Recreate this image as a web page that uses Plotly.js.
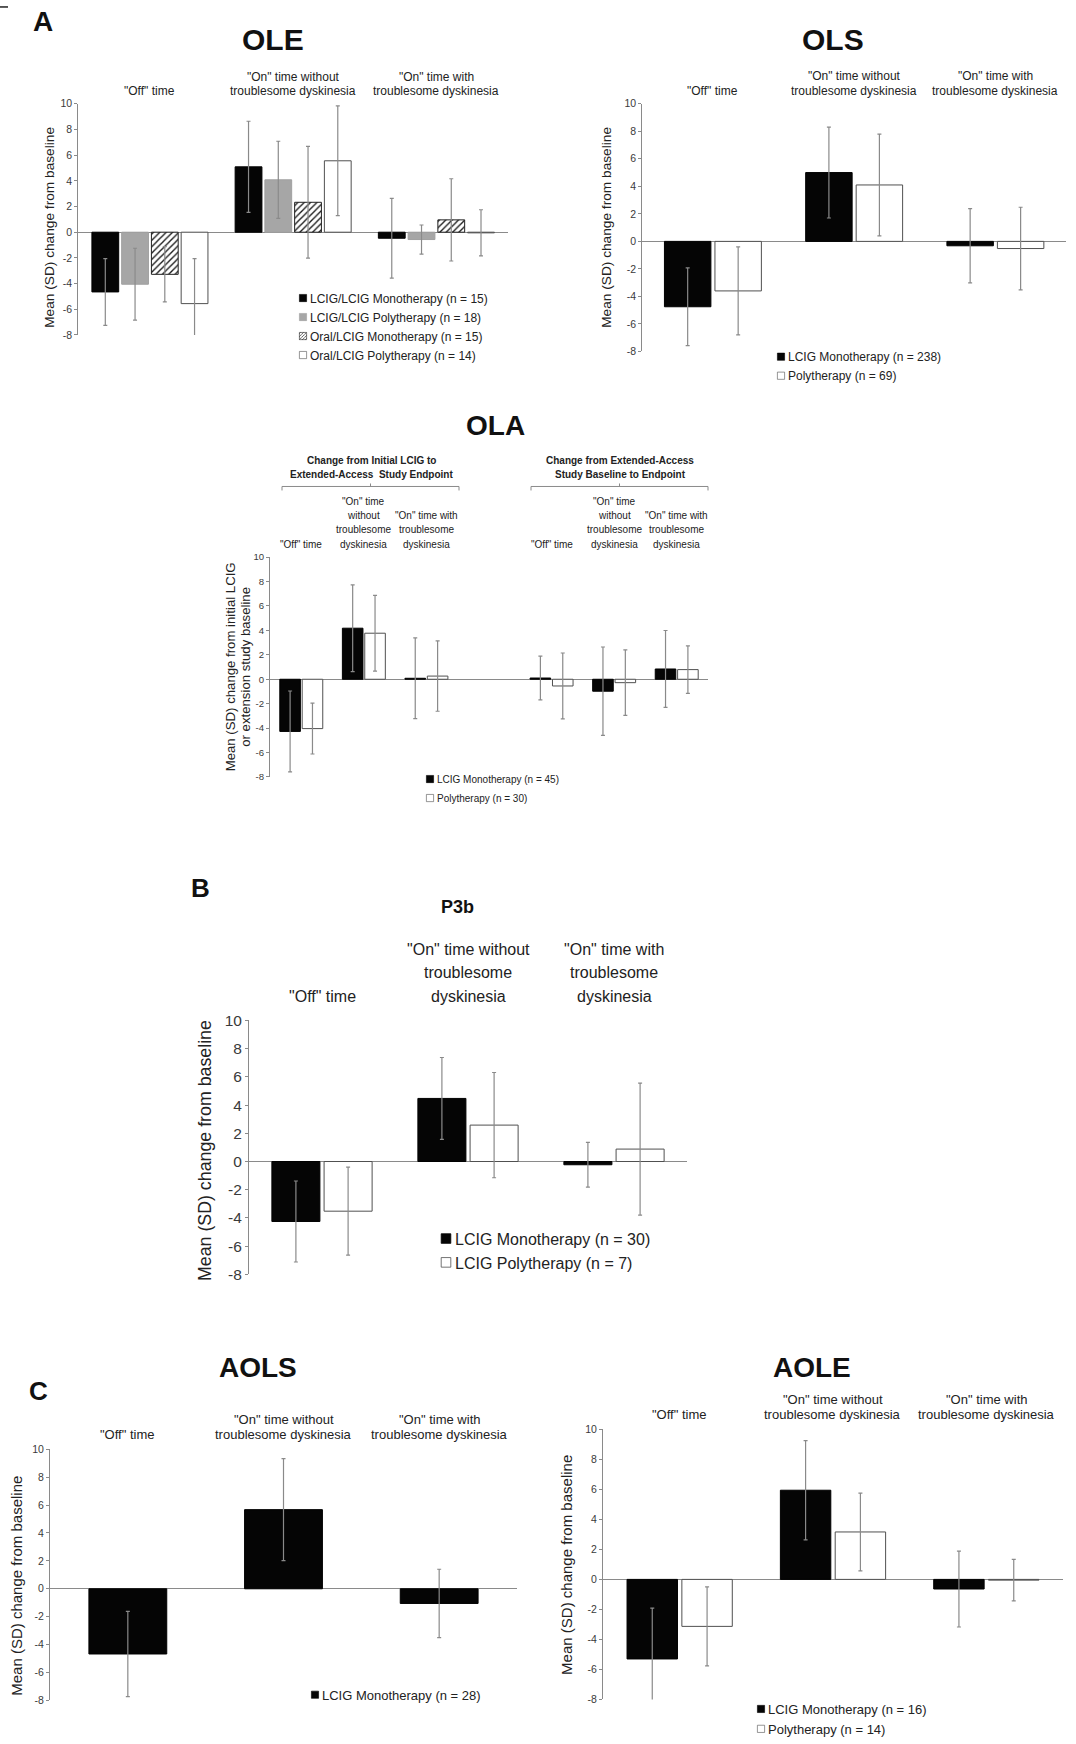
<!DOCTYPE html>
<html><head><meta charset="utf-8">
<script src="https://cdn.plot.ly/plotly-3.0.1.min.js"></script>
<style>body{margin:0;background:#fff}#chart{width:1076px;height:1744px}</style>
</head><body><div id="chart"></div>
<script>
// ---------------- DATA ----------------
const catLabels = ['"Off" time', '"On" time without<br>troublesome dyskinesia', '"On" time with<br>troublesome dyskinesia'];
const p3bCatLabels = ['"Off" time', '"On" time without<br>troublesome<br>dyskinesia', '"On" time with<br>troublesome<br>dyskinesia'];
const olaCatLabels = ['"Off" time', '"On" time<br>without<br>troublesome<br>dyskinesia', '"On" time with<br>troublesome<br>dyskinesia'];
const olaSections = ['Change from Initial LCIG to<br>Extended-Access  Study Endpoint', 'Change from Extended-Access<br>Study Baseline to Endpoint'];
const yTickVals = [-8, -6, -4, -2, 0, 2, 4, 6, 8, 10];
const yTickText = ['-8', '-6', '-4', '-2', '0', '2', '4', '6', '8', '10'];
const yTitle = 'Mean (SD) change from baseline';
const olaYTitle = 'Mean (SD) change from initial LCIG<br>or extension study baseline';

// OLE
const oleNames = ['LCIG/LCIG Monotherapy (n = 15)', 'LCIG/LCIG Polytherapy (n = 18)', 'Oral/LCIG Monotherapy (n = 15)', 'Oral/LCIG Polytherapy (n = 14)'];
const oleLcigMono = [-4.65, 5.09, -0.47];
const oleLcigMonoSD = [2.6, 3.55, 3.1];
const oleLcigPoly = [-4.05, 4.08, -0.57];
const oleLcigPolySD = [2.8, 3.0, 1.13];
const oleOralMono = [-3.28, 2.33, 0.96];
const oleOralMonoSD = [2.15, 4.35, 3.2];
const oleOralPoly = [-5.56, 5.56, -0.05];
const oleOralPolySD = [3.5, 4.27, 1.8];

// OLS
const olsNames = ['LCIG Monotherapy (n = 238)', 'Polytherapy (n = 69)'];
const olsMono = [-4.75, 5.0, -0.32];
const olsMonoSD = [2.82, 3.3, 2.7];
const olsPoly = [-3.6, 4.1, -0.52];
const olsPolySD = [3.2, 3.7, 3.0];

// OLA
const olaNames = ['LCIG Monotherapy (n = 45)', 'Polytherapy (n = 30)'];
const olaMono = [-4.27, 4.18, 0.08, 0.1, -0.98, 0.84];
const olaMonoSD = [3.31, 3.55, 3.31, 1.79, 3.62, 3.15];
const olaPoly = [-4.04, 3.77, 0.26, -0.55, -0.28, 0.79];
const olaPolySD = [2.08, 3.1, 2.88, 2.7, 2.68, 1.94];

// P3b
const p3bNames = ['LCIG Monotherapy (n = 30)', 'LCIG Polytherapy (n = 7)'];
const p3bMono = [-4.25, 4.47, -0.23];
const p3bMonoSD = [2.87, 2.9, 1.58];
const p3bPoly = [-3.52, 2.58, 0.88];
const p3bPolySD = [3.12, 3.73, 4.68];

// AOLS
const aolsNames = ['LCIG Monotherapy (n = 28)'];
const aolsMono = [-4.67, 5.67, -1.05];
const aolsMonoSD = [3.05, 3.65, 2.45];

// AOLE
const aoleNames = ['LCIG Monotherapy (n = 16)', 'Polytherapy (n = 14)'];
const aoleMono = [-5.3, 5.94, -0.64];
const aoleMonoSD = [3.38, 3.31, 2.53];
const aolePoly = [-3.13, 3.16, -0.05];
const aolePolySD = [2.63, 2.59, 1.38];

// ---------------- LAYOUT HELPERS ----------------
const W = 1076, H = 1744;
const px = v => v / W;
const py = v => 1 - v / H;
const FONT = '"Liberation Sans", Arial, sans-serif';
const GREY = '#8a8a8a';

const olaX = olaSections.flatMap((s, k) => olaCatLabels.map((c, i) => k * (olaCatLabels.length + 1) + i));

const styles = {
  black: {color: '#050505', line: {color: '#000', width: 1}},
  grey: {color: '#a6a6a6', line: {color: '#a0a0a0', width: 1}},
  hatch: {color: '#ffffff', line: {color: '#222', width: 1}, pattern: {shape: '/', fgcolor: '#1a1a1a', bgcolor: '#ffffff', size: 4.5, solidity: 0.3}},
  white: {color: '#ffffff', line: {color: '#505050', width: 1}}
};

function bar(x, y, sd, name, style, ax, legend, extra) {
  return Object.assign({
    type: 'bar', x: x, y: y, name: name,
    xaxis: 'x' + ax, yaxis: 'y' + ax, legend: legend,
    marker: JSON.parse(JSON.stringify(style)),
    error_y: {type: 'data', array: sd, visible: true, color: GREY, thickness: 1.2, width: 2},
    hoverinfo: 'skip'
  }, extra || {});
}

const traces = [];
// OLE (4 bars, custom width/offset)
const oleW = 0.187, oleStep = 0.2077, oleOff0 = -0.405;
[[oleLcigMono, oleLcigMonoSD, styles.black], [oleLcigPoly, oleLcigPolySD, styles.grey],
 [oleOralMono, oleOralMonoSD, styles.hatch], [oleOralPoly, oleOralPolySD, styles.white]].forEach((d, i) => {
  traces.push(bar(catLabels, d[0], d[1], oleNames[i], d[2], '', 'legend', {width: oleW, offset: oleOff0 + i * oleStep}));
});
// OLS
traces.push(bar(catLabels, olsMono, olsMonoSD, olsNames[0], styles.black, '2', 'legend2'));
traces.push(bar(catLabels, olsPoly, olsPolySD, olsNames[1], styles.white, '2', 'legend2'));
// OLA
traces.push(bar(olaX, olaMono, olaMonoSD, olaNames[0], styles.black, '3', 'legend3'));
traces.push(bar(olaX, olaPoly, olaPolySD, olaNames[1], styles.white, '3', 'legend3'));
// P3b
traces.push(bar(p3bCatLabels, p3bMono, p3bMonoSD, p3bNames[0], styles.black, '4', 'legend4'));
traces.push(bar(p3bCatLabels, p3bPoly, p3bPolySD, p3bNames[1], styles.white, '4', 'legend4'));
// AOLS
traces.push(bar(catLabels, aolsMono, aolsMonoSD, aolsNames[0], styles.black, '5', 'legend5', {width: 0.5, offset: -0.25}));
// AOLE
traces.push(bar(catLabels, aoleMono, aoleMonoSD, aoleNames[0], styles.black, '6', 'legend6'));
traces.push(bar(catLabels, aolePoly, aolePolySD, aoleNames[1], styles.white, '6', 'legend6'));

function xaxis(x0, x1, range, type) {
  return {domain: [px(x0), px(x1)], range: range, type: type || 'category', showticklabels: false,
    ticks: '', showline: false, showgrid: false, zeroline: false, fixedrange: true};
}
function yaxis(y0, y1, anchor, tickSize) {
  return {domain: [py(y1), py(y0)], range: [-8, 10], anchor: anchor,
    tickvals: yTickVals, ticktext: yTickText, tickfont: {size: tickSize, color: '#3a3a3a', family: FONT},
    showline: true, linecolor: GREY, linewidth: 1, ticks: 'outside', ticklen: 3, tickcolor: GREY,
    showgrid: false, zeroline: true, zerolinecolor: GREY, zerolinewidth: 1.2, fixedrange: true};
}
function legend(x, y, size) {
  return {x: px(x), y: py(y), xanchor: 'left', yanchor: 'top', bgcolor: 'rgba(0,0,0,0)',
    font: {size: size, color: '#222', family: FONT}, traceorder: 'normal', tracegroupgap: 0, itemwidth: 30};
}

const annotations = [];
function txt(x, y, text, size, opts) {
  annotations.push(Object.assign({xref: 'paper', yref: 'paper', x: px(x), y: py(y), text: text, showarrow: false,
    font: {size: size, color: '#111', family: FONT}, xanchor: 'center', yanchor: 'middle'}, opts || {}));
}
// category labels: one annotation per line, placed on the category's x position
function catAnn(labels, xs, axis, lastY, spacing, size) {
  labels.forEach((l, i) => {
    const lines = l.split('<br>');
    lines.forEach((ln, j) => annotations.push({xref: axis, yref: 'paper', x: xs[i],
      y: py(lastY - (lines.length - 1 - j) * spacing + 1), text: ln,
      showarrow: false, xanchor: 'center', yanchor: 'middle', font: {size: size, color: '#222', family: FONT}}));
  });
}
function yTitleAnn(x, y, text, size, spacing) {
  const lines = text.split('<br>');
  lines.forEach((ln, j) => txt(x - (lines.length - 1) * spacing / 2 + j * spacing, y, ln, size,
    {textangle: -90, font: {size: size, color: '#222', family: FONT}}));
}
// titles and panel letters
txt(43, 22, '<b>A</b>', 28);
txt(273, 40, '<b>OLE</b>', 30);
txt(833, 40, '<b>OLS</b>', 30);
txt(495, 428, '<b>OLA</b>', 28);
txt(200, 893, '<b>B</b>', 26);
txt(457, 912, '<b>P3b</b>', 18);
txt(38, 1398, '<b>C</b>', 26);
txt(258, 1375, '<b>AOLS</b>', 28);
txt(812, 1375, '<b>AOLE</b>', 28);
// category labels
catAnn(catLabels, catLabels, 'x', 90, 14, 12);
catAnn(catLabels, catLabels, 'x2', 90, 15, 12);
catAnn(olaCatLabels.concat(olaCatLabels), olaX, 'x3', 546, 14.3, 10);
catAnn(p3bCatLabels, p3bCatLabels, 'x4', 1001, 24, 16);
catAnn(catLabels, catLabels, 'x5', 1441, 15.3, 13);
catAnn(catLabels, catLabels, 'x6', 1421, 15.3, 13);
// OLA section headers (centered over brackets)
[[371, olaSections[0]], [620, olaSections[1]]].forEach(s => {
  s[1].split('<br>').forEach((ln, j) => txt(s[0], 462.5 + j * 14.5, '<b>' + ln + '</b>', 10,
    {font: {size: 10, color: '#222', family: FONT}}));
});
// y-axis titles
yTitleAnn(50, 229, yTitle, 13.7, 0);
yTitleAnn(607, 229, yTitle, 13.7, 0);
yTitleAnn(238, 670, olaYTitle, 13.2, 14.5);
yTitleAnn(205, 1157, yTitle, 17.8, 0);
yTitleAnn(17, 1594, yTitle, 15, 0);
yTitleAnn(567, 1573, yTitle, 15, 0);

function bracket(x0, x1, y) {
  const xm = (x0 + x1) / 2;
  return {type: 'path', xref: 'paper', yref: 'paper', line: {color: GREY, width: 1},
    path: `M${px(x0)},${py(y + 4)} L${px(x0)},${py(y)} L${px(x1)},${py(y)} L${px(x1)},${py(y + 4)} M${px(xm)},${py(y)} L${px(xm)},${py(y - 3)}`};
}
const shapes = [bracket(282, 459, 489), bracket(531, 708, 489),
  {type: 'line', xref: 'paper', yref: 'paper', x0: 0, x1: px(8), y0: py(7), y1: py(7), line: {color: '#222', width: 1.5}}];

const layout = {
  width: W, height: H, margin: {l: 0, r: 0, t: 0, b: 0},
  paper_bgcolor: '#fff', plot_bgcolor: 'rgba(0,0,0,0)',
  font: {family: FONT, color: '#222'},
  barmode: 'group', bargap: 0.285, bargroupgap: 0.08, showlegend: true,
  xaxis: xaxis(78.3, 508, [-0.5, 2.5]),
  yaxis: yaxis(104.3, 336.7, 'x', 10.5),
  xaxis2: xaxis(642.3, 1066, [-0.5, 2.5]),
  yaxis2: yaxis(104.3, 353.3, 'x2', 10.5),
  xaxis3: xaxis(270, 708, [-0.5, 6.5], 'linear'),
  yaxis3: yaxis(560, 781, 'x3', 9.6),
  xaxis4: xaxis(249, 687, [-0.5, 2.5]),
  yaxis4: yaxis(1025.7, 1281, 'x4', 15.5),
  xaxis5: xaxis(50, 517, [-0.5, 2.5]),
  yaxis5: yaxis(1456.7, 1709.3, 'x5', 10.5),
  xaxis6: xaxis(603, 1063, [-0.5, 2.5]),
  yaxis6: yaxis(1436.7, 1708.3, 'x6', 10.5),
  legend: legend(283, 285, 12),
  legend2: legend(761, 344, 12),
  legend3: legend(410, 768.5, 10),
  legend4: legend(426, 1228, 16),
  legend5: legend(295, 1688.5, 13),
  legend6: legend(741, 1703, 13),
  annotations: annotations,
  shapes: shapes
};

const gd = document.getElementById('chart');
function tightenLegends() {
  // bring legend swatches closer to the text, like the original figure (idempotent)
  gd.querySelectorAll('g.traces').forEach(item => {
    const t = item.querySelector('text[class$="text"]');
    if (!t) return;
    const big = (t.getAttribute('class') || '') === 'legend4text';
    const xv = big ? '29' : '27';
    if (t.getAttribute('x') !== xv) t.setAttribute('x', xv);
    item.querySelectorAll('.legendpoints path').forEach(p => {
      const tr = p.getAttribute('transform') || '';
      if (tr.indexOf('scale(') < 0) p.setAttribute('transform', tr + (big ? ' scale(0.8)' : ' scale(0.6)'));
    });
  });
}
const obs = new MutationObserver(tightenLegends);
obs.observe(gd, {childList: true, subtree: true, attributes: true, attributeFilter: ['x', 'transform']});
Plotly.newPlot(gd, traces, layout, {staticPlot: true, displayModeBar: false}).then(() => {
  tightenLegends();
  [0, 30, 100, 300].forEach(t => setTimeout(tightenLegends, t));
});
</script>
</body></html>
